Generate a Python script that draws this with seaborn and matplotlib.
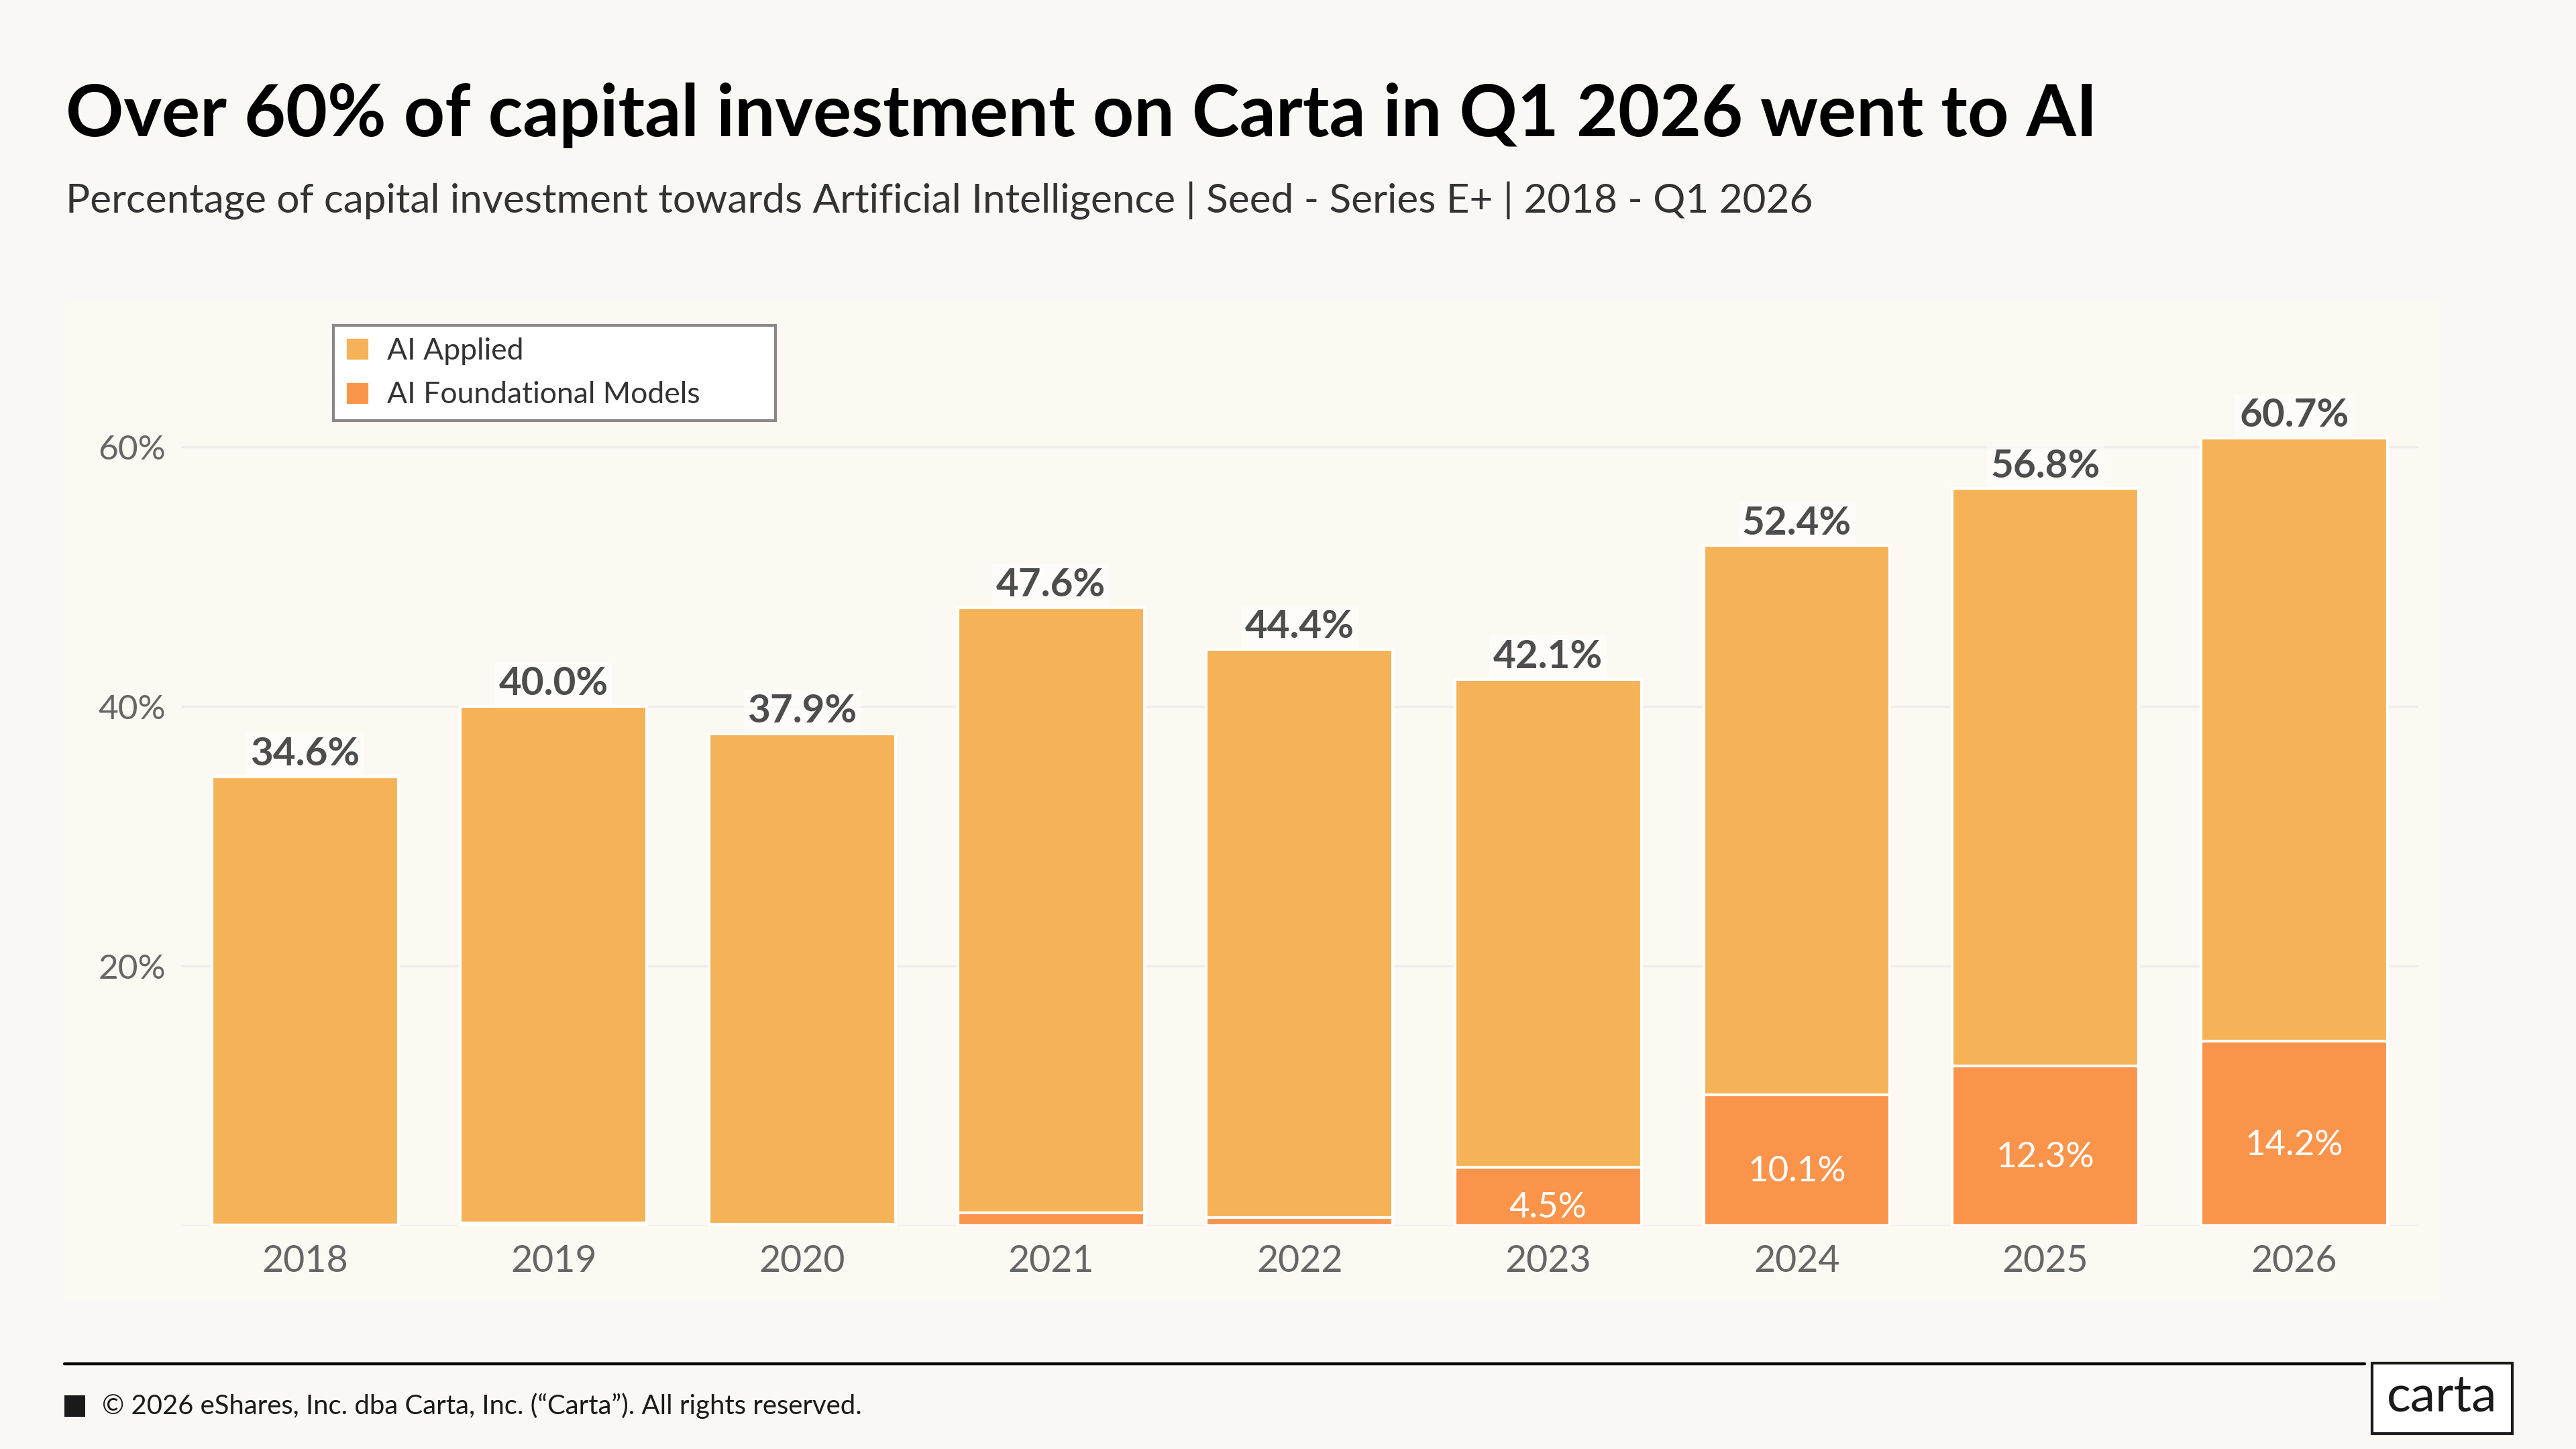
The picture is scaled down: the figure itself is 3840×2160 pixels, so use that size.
import pandas as pd
import seaborn as sns
import matplotlib.pyplot as plt
from matplotlib.patches import Rectangle, Patch

years = ['2018', '2019', '2020', '2021', '2022', '2023', '2024', '2025', '2026']
total_ai = [34.6, 40.0, 37.9, 47.6, 44.4, 42.1, 52.4, 56.8, 60.7]
foundational = [0.05, 0.2, 0.1, 1.0, 0.6, 4.5, 10.1, 12.3, 14.2]
show_inner = [False, False, False, False, False, True, True, True, True]

df = pd.DataFrame({'year': years, 'total': total_ai, 'found': foundational})

c_applied = '#F5B256'
c_found = '#FB944B'
txt_grey = '#666666'

sns.set_theme(style='white')
plt.rcParams['font.family'] = ['Lato', 'DejaVu Sans']

fig = plt.figure(figsize=(19.2, 10.8), dpi=200, facecolor='#F9F8F5')

# light panel behind the chart
fig.patches.append(Rectangle((0.0255, 0.1028), 0.922, 0.689, transform=fig.transFigure,
                             facecolor='#FCF9F3', edgecolor='none', zorder=-5))

ax = fig.add_axes([0.0702, 0.1542, 0.8686, 0.591])
ax.set_zorder(2)
ax.set_facecolor('none')

sns.barplot(data=df, x='year', y='total', color=c_applied, width=0.75, saturation=1,
            edgecolor='white', linewidth=1.5, ax=ax, zorder=2)
sns.barplot(data=df, x='year', y='found', color=c_found, width=0.75, saturation=1,
            edgecolor='white', linewidth=1.5, ax=ax, zorder=3)

for i, v in enumerate(total_ai):
    ax.text(i, v + 0.35, f'{v:.1f}%', ha='center', va='bottom', fontsize=21,
            fontweight='bold', color='#4D4D4D', zorder=5,
            bbox=dict(boxstyle='square,pad=0.1', facecolor='white', edgecolor='none', alpha=0.5))

for i, v in enumerate(foundational):
    if show_inner[i]:
        ax.text(i, v / 2 - 0.9, f'{v:.1f}%', ha='center', va='center', fontsize=19,
                color='white', zorder=5)

ax.set_xlim(-0.5, 8.5)
ax.set_ylim(0, 66)
ax.set_yticks([20, 40, 60])
ax.set_yticklabels(['20%', '40%', '60%'])
ax.grid(axis='y', color='#EFEDEA', linewidth=1.2, zorder=0)
ax.set_axisbelow(True)
ax.axhline(0, color='#EFEDEA', linewidth=1.2, zorder=1)
ax.tick_params(axis='both', length=0, labelsize=20, labelcolor=txt_grey)
ax.tick_params(axis='y', pad=8, labelsize=18.5)
ax.tick_params(axis='x', pad=10)
ax.set_xlabel('')
ax.set_ylabel('')
sns.despine(ax=ax, left=True, bottom=True)

handles = [Patch(facecolor=c_applied, label='AI Applied'),
           Patch(facecolor=c_found, label='AI Foundational Models')]
leg = fig.legend(handles=handles, loc='upper left', bbox_to_anchor=(0.1294, 0.7755, 0.1716, 0.0),
                 mode='expand', fontsize=16, frameon=True, fancybox=False, edgecolor='#888888',
                 facecolor='white', handlelength=0.8, handleheight=0.8,
                 handletextpad=0.6, labelspacing=0.55, borderpad=0.4, borderaxespad=0)
leg.get_frame().set_linewidth(1.5)
leg.get_frame().set_alpha(1)
leg.set_zorder(10)
for t in leg.get_texts():
    t.set_color('#333333')

fig.text(0.0255, 0.906, 'Over 60% of capital investment on Carta in Q1 2026 went to AI',
         fontsize=38.5, fontweight='bold', color='black', va='baseline')
fig.text(0.0255, 0.853,
         'Percentage of capital investment towards Artificial Intelligence | Seed - Series E+ | 2018 - Q1 2026',
         fontsize=21.7, color='#333333', va='baseline')

# footer
fig.add_artist(plt.Line2D([0.025, 0.918], [0.0588, 0.0588], color='black', linewidth=1.6,
                          transform=fig.transFigure))
fig.patches.append(Rectangle((0.025, 0.0222), 0.008, 0.0148, transform=fig.transFigure,
                             facecolor='#1A1A1A', edgecolor='none'))
fig.text(0.0395, 0.0296, '\u00a9 2026 eShares, Inc. dba Carta, Inc. (\u201cCarta\u201d). All rights reserved.',
         fontsize=14.4, color='#1A1A1A', va='center')
fig.patches.append(Rectangle((0.9208, 0.0106), 0.0545, 0.0487, transform=fig.transFigure,
                             facecolor='white', edgecolor='#1A1A1A', linewidth=1.5))
fig.text(0.948, 0.036, 'carta', fontsize=27, color='#1A1A1A', ha='center', va='center')

plt.savefig('out.png', dpi=200, facecolor=fig.get_facecolor())
